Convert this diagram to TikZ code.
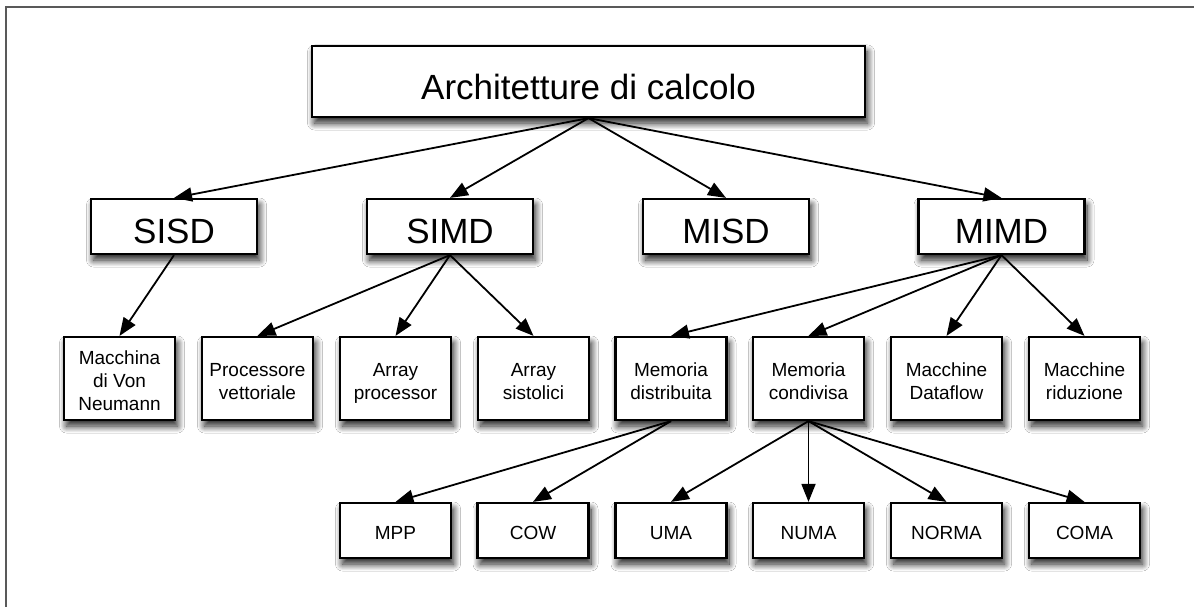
\documentclass[tikz,border=0pt]{standalone}
\usepackage{fontspec}
\setmainfont{Liberation Sans}
\usetikzlibrary{arrows.meta,shadows.blur}

% taller strut on the first line pushes a text block a little below the middle
\newcommand{\firstline}{\rule{0pt}{25.5pt}}

\tikzset{
  box/.style={draw=black, line width=2.2pt, fill=white, inner sep=0pt,
    blur shadow={shadow xshift=2.5pt, shadow yshift=-6pt, shadow blur radius=7pt,
                 shadow blur steps=14, shadow opacity=90}},
  rootbox/.style={box, minimum width=553pt, minimum height=71pt,
    text height=37pt, text depth=0pt, font=\fontsize{35}{40}\selectfont},
  classbox/.style={box, minimum width=166pt, minimum height=55pt,
    text height=33pt, text depth=0pt, font=\fontsize{35}{40}\selectfont},
  leafbox/.style={box, align=center, minimum width=111pt, minimum height=83pt,
    font=\fontsize{19}{23}\selectfont},
  smallbox/.style={box, minimum width=111pt, minimum height=55pt,
    text height=17.6pt, text depth=0pt, font=\fontsize{19}{23}\selectfont},
  link/.style={line width=1.8pt, -{Triangle[length=18pt,width=14pt]}},
  frameline/.style={draw=black!65, line width=1.8pt}
}

\begin{document}
\begin{tikzpicture}[x=1pt,y=-1pt]
  \useasboundingbox (0,0) rectangle (1194,607);
  \fill[white] (0,0) rectangle (1194,607);
  \draw[frameline] (6,607) -- (6,7) -- (1194,7);

  % root
  \node[rootbox] (root) at (588.5,81.5) {Architetture di calcolo};

  % Flynn classes
  \node[classbox] (sisd) at (174,226.5) {SISD};
  \node[classbox] (simd) at (450,226.5) {SIMD};
  \node[classbox] (misd) at (726,226.5) {MISD};
  \node[classbox] (mimd) at (1001.5,226.5) {MIMD};

  % third level
  \node[leafbox] (vn)   at (119.5,378.5) {\firstline Macchina\strut\\di Von\strut\\Neumann\strut};
  \node[leafbox] (pv)   at (257.5,378.5) {\firstline Processore\strut\\vettoriale\strut};
  \node[leafbox] (ap)   at (395.5,378.5) {\firstline Array\strut\\processor\strut};
  \node[leafbox] (as)   at (533.5,378.5) {\firstline Array\strut\\sistolici\strut};
  \node[leafbox] (md)   at (671,378.5)   {\firstline Memoria\strut\\distribuita\strut};
  \node[leafbox] (mc)   at (808.5,378.5) {\firstline Memoria\strut\\condivisa\strut};
  \node[leafbox] (mdf)  at (946.5,378.5) {\firstline Macchine\strut\\Dataflow\strut};
  \node[leafbox] (mr)   at (1084.5,378.5) {\firstline Macchine\strut\\riduzione\strut};

  % memory models
  \node[smallbox] (mpp)   at (395.5,530.5) {MPP};
  \node[smallbox] (cow)   at (533,530.5)   {COW};
  \node[smallbox] (uma)   at (671,530.5)   {UMA};
  \node[smallbox] (numa)  at (808.5,530.5) {NUMA};
  \node[smallbox] (norma) at (946.5,530.5) {NORMA};
  \node[smallbox] (coma)  at (1084.5,530.5) {COMA};

  % connectors
  \foreach \c in {sisd,simd,misd,mimd} \draw[link] (root.south) -- (\c.north);
  \draw[link] (sisd.south) -- (vn.north);
  \foreach \c in {pv,ap,as} \draw[link] (simd.south) -- (\c.north);
  \foreach \c in {md,mc,mdf,mr} \draw[link] (mimd.south) -- (\c.north);
  \foreach \c in {mpp,cow} \draw[link] (md.south) -- (\c.north);
  \foreach \c in {uma,numa,norma,coma} \draw[link] (mc.south) -- (\c.north);
\end{tikzpicture}
\end{document}
